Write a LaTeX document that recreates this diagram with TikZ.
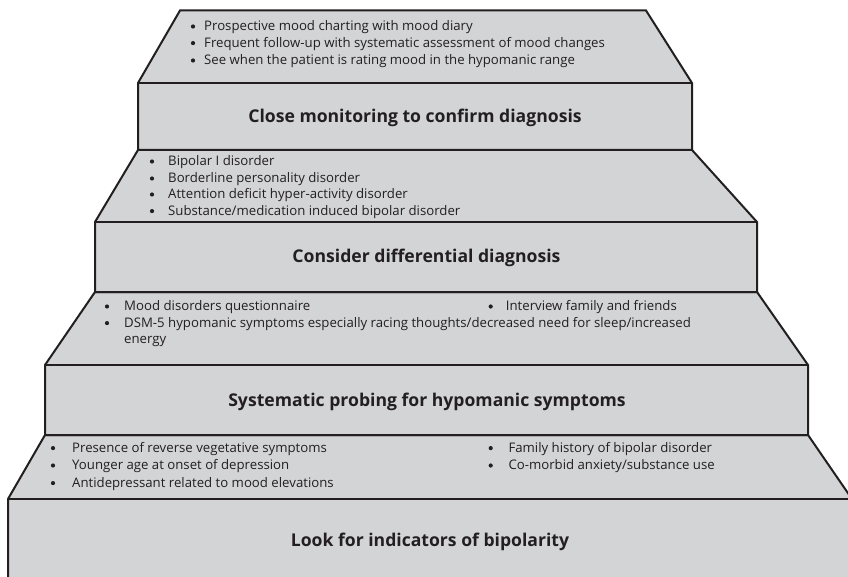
\documentclass[tikz,border=0pt]{standalone}
\usepackage{fontspec}
\setmainfont{Open Sans}
\definecolor{stepfill}{RGB}{211,212,214}
\definecolor{ink}{RGB}{35,31,32}
\tikzset{
  tier/.style={fill=stepfill, draw=ink, line width=2pt, line join=miter},
  item/.style={anchor=base west, inner sep=0pt, text=ink, font=\fontsize{13.2}{15}\selectfont},
  heading/.style={anchor=base, inner sep=0pt, text=ink, font=\fontsize{17.6}{21}\selectfont\bfseries},
  dot/.style={fill=ink},
}
\begin{document}
\begin{tikzpicture}[x=1pt,y=-1pt]
\useasboundingbox (0,0) rectangle (848,577);
\begin{scope}
\clip (0,0) rectangle (848,577);
% bottom step: look for indicators
\draw[tier] (45,435) -- (808,435) -- (852,499) -- (852,600) -- (8,600) -- (8,499) -- cycle;
\draw[tier] (8,499) -- (852,499);
% second step: systematic probing
\draw[tier] (95,292) -- (757,292) -- (808,365) -- (808,435) -- (45,435) -- (45,365) -- cycle;
\draw[tier] (45,365) -- (808,365);
% third step: differential diagnosis
\draw[tier] (138,150) -- (692,150) -- (757,222) -- (757,292) -- (95,292) -- (95,222) -- cycle;
\draw[tier] (95,222) -- (757,222);
% top step: close monitoring
\draw[tier] (180,10.5) -- (646,10.5) -- (692,83) -- (692,150) -- (138,150) -- (138,83) -- cycle;
\draw[tier] (138,83) -- (692,83);
\end{scope}

% headings
\node[heading] (h4) at (415,122.3) {Close monitoring to confirm diagnosis};
\node[heading] (h3) at (426.5,262.7) {Consider differential diagnosis};
\node[heading] (h2) at (427,406.3) {Systematic probing for hypomanic symptoms};
\node[heading] (h1) at (430,546.3) {Look for indicators of bipolarity};

% top step items
\node[item] (a1) at (204,30.7) {Prospective mood charting with mood diary};
\node[item] (a2) at (204,47.3) {Frequent follow-up with systematic assessment of mood changes};
\node[item] (a3) at (204,64.7) {See when the patient is rating mood in the hypomanic range};

% third step items
\node[item] (b1) at (168,165.7) {Bipolar I disorder};
\node[item] (b2) at (168,182.7) {Borderline personality disorder};
\node[item] (b3) at (168,198.7) {Attention deficit hyper-activity disorder};
\node[item] (b4) at (168,215.3) {Substance/medication induced bipolar disorder};

% second step items
\node[item] (c1) at (124,310.7) {Mood disorders questionnaire};
\node[item] (c2) at (124,327.3) {DSM-5 hypomanic symptoms especially racing thoughts/decreased need for sleep/increased};
\node[item] (c3) at (124,343) {energy};
\node[item] (c4) at (505.7,310.7) {Interview family and friends};

% bottom step items
\node[item] (d1) at (72,452.3) {Presence of reverse vegetative symptoms};
\node[item] (d2) at (72,469.7) {Younger age at onset of depression};
\node[item] (d3) at (72,487.3) {Antidepressant related to mood elevations};
\node[item] (d4) at (508.3,452.3) {Family history of bipolar disorder};
\node[item] (d5) at (508.3,469.7) {Co-morbid anxiety/substance use};

% bullets, placed left of each item's baseline
\foreach \n/\dx in {a1/11,a2/11,a3/11,b1/16,b2/16,b3/16,b4/16,c1/17,c2/17,c4/15,d1/19,d2/19,d3/19,d4/17.6,d5/17.6}
  \fill[dot] ([shift={(-\dx,-4.2)}]\n.base west) circle (2.1);
\end{tikzpicture}
\end{document}
